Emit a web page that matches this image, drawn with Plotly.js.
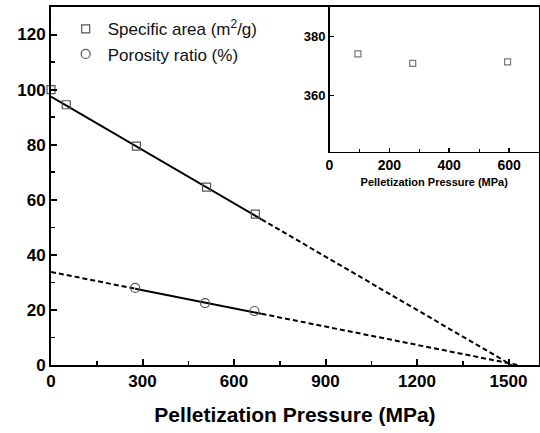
<!DOCTYPE html>
<html>
<head>
<meta charset="utf-8">
<script src="https://cdn.plot.ly/plotly-3.0.1.min.js"></script>
<style>html,body{margin:0;padding:0;background:#fff;}#chart{width:540px;height:433px;}</style>
</head>
<body>
<div id="chart"></div>
<script>
// Main chart data
const specX = [0, 50, 280, 510, 670];
const specY = [100, 94.5, 79.5, 64.6, 54.8];
const porX = [276, 505, 667];
const porY = [28.0, 22.5, 19.6];

// Linear fits (solid over measured range, dashed extrapolation)
const specFitSolidX = [0, 690];
const specFitSolidY = [97.5, 52.9];
const specFitDashX = [690, 1510];
const specFitDashY = [52.9, 0];
const porFitDashX1 = [0, 276];
const porFitDashY1 = [33.8, 27.7];
const porFitSolidX = [276, 690];
const porFitSolidY = [27.7, 18.6];
const porFitDashX2 = [690, 1530];
const porFitDashY2 = [18.6, 0];

// Inset data
const insetX = [95, 278, 595];
const insetY = [374.1, 370.9, 371.4];

// Tick labels
const mainXTicks = [0, 300, 600, 900, 1200, 1500];
const mainYTicks = [0, 20, 40, 60, 80, 100, 120];
const insetXTicks = [0, 200, 400, 600];
const insetYTicks = [360, 380];

const FONT = 'Arial, "Liberation Sans", sans-serif';
const solid = {color: '#000', width: 2};
const dashed = {color: '#000', width: 2, dash: '5px,3px'};

const traces = [
  {x: specFitSolidX, y: specFitSolidY, mode: 'lines', line: solid, showlegend: false, hoverinfo: 'skip'},
  {x: specFitDashX, y: specFitDashY, mode: 'lines', line: dashed, showlegend: false, hoverinfo: 'skip'},
  {x: porFitDashX1, y: porFitDashY1, mode: 'lines', line: dashed, showlegend: false, hoverinfo: 'skip'},
  {x: porFitSolidX, y: porFitSolidY, mode: 'lines', line: solid, showlegend: false, hoverinfo: 'skip'},
  {x: porFitDashX2, y: porFitDashY2, mode: 'lines', line: dashed, showlegend: false, hoverinfo: 'skip'},
  {x: specX, y: specY, mode: 'markers', name: 'Specific area (m<sup>2</sup>/g)', cliponaxis: false,
   marker: {symbol: 'square-open', size: 8, color: '#555', line: {width: 1.2}}},
  {x: porX, y: porY, mode: 'markers', name: 'Porosity ratio (%)', cliponaxis: false,
   marker: {symbol: 'circle-open', size: 9, color: '#555', line: {width: 1.2}}},
  {x: insetX, y: insetY, mode: 'markers', xaxis: 'x2', yaxis: 'y2', showlegend: false,
   marker: {symbol: 'square-open', size: 6, color: '#777', line: {width: 1.2}}}
];

const layout = {
  width: 540, height: 433,
  margin: {l: 51, r: 1, t: 7, b: 68},
  paper_bgcolor: '#fff', plot_bgcolor: '#fff',
  font: {family: FONT, color: '#000'},
  showlegend: true,
  legend: {x: 0.026, y: 0.988, xanchor: 'left', yanchor: 'top', bgcolor: 'rgba(0,0,0,0)',
           itemwidth: 34,
           font: {size: 17, color: '#111', family: FONT}, tracegroupgap: 0},
  xaxis: {
    range: [0, 1600], tickvals: mainXTicks, ticktext: mainXTicks.map(String),
    ticks: 'inside', ticklen: 6, tickwidth: 2, tickcolor: '#000',
    minor: {tickvals: [150, 450, 750, 1050, 1350], ticks: 'inside', ticklen: 4, tickwidth: 1.5, tickcolor: '#000'},
    showline: true, linewidth: 2, linecolor: '#000', mirror: true,
    showgrid: false, zeroline: false,
    tickfont: {size: 17, weight: 700, family: FONT},
    title: {text: 'Pelletization Pressure (MPa)', font: {size: 21, weight: 700, family: FONT}, standoff: 17}
  },
  yaxis: {
    range: [0, 130], tickvals: mainYTicks, ticktext: mainYTicks.map(String),
    ticks: 'inside', ticklen: 6, tickwidth: 2, tickcolor: '#000',
    minor: {tickvals: [10, 30, 50, 70, 90, 110], ticks: 'inside', ticklen: 4, tickwidth: 1.5, tickcolor: '#000'},
    showline: true, linewidth: 2, linecolor: '#000', mirror: true,
    showgrid: false, zeroline: false,
    tickfont: {size: 17, weight: 700, family: FONT}
  },
  xaxis2: {
    domain: [0.5707, 1], anchor: 'y2',
    range: [0, 700], tickvals: insetXTicks, ticktext: insetXTicks.map(String),
    ticks: 'inside', ticklen: 4, tickwidth: 1.5, tickcolor: '#000',
    minor: {tickvals: [100, 300, 500], ticks: 'inside', ticklen: 3, tickwidth: 1, tickcolor: '#000'},
    showline: true, linewidth: 1.5, linecolor: '#000',
    showgrid: false, zeroline: false,
    tickfont: {size: 14, weight: 700, family: FONT},
    title: {text: 'Pelletization Pressure (MPa)', font: {size: 11, weight: 700, family: FONT}, standoff: 6}
  },
  yaxis2: {
    domain: [0.5958, 1], anchor: 'x2',
    range: [341, 390], tickvals: insetYTicks, ticktext: insetYTicks.map(String),
    ticks: 'inside', ticklen: 4, tickwidth: 1.5, tickcolor: '#000',
    showline: true, linewidth: 1.5, linecolor: '#000',
    showgrid: false, zeroline: false,
    tickfont: {size: 13, weight: 700, family: FONT}
  }
};

Plotly.newPlot('chart', traces, layout, {staticPlot: true, displayModeBar: false});
</script>
</body>
</html>
